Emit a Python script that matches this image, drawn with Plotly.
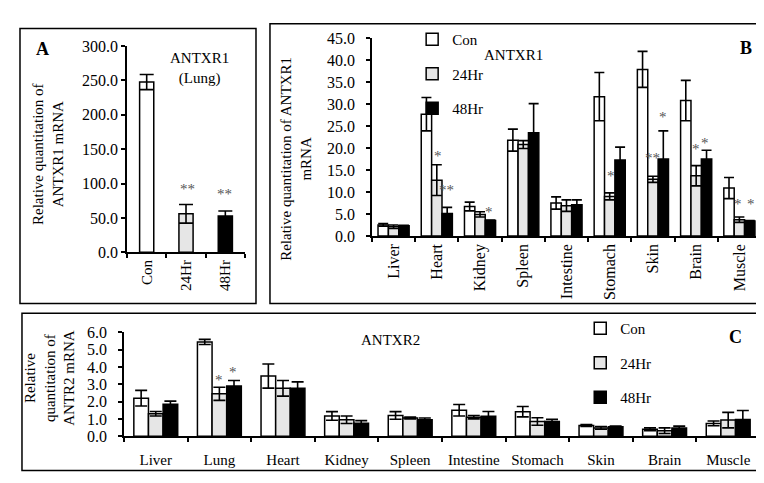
import plotly.graph_objects as go

# ---------------- Data ----------------
a_groups = ["Con", "24Hr", "48Hr"]
a_vals = [247.5, 56.0, 53.0]
a_err = [11.0, 13.5, 7.0]

b_tissues = ["Liver", "Heart", "Kidney", "Spleen", "Intestine", "Stomach", "Skin", "Brain", "Muscle"]
b_con = [2.5, 27.7, 6.7, 21.8, 7.5, 31.7, 37.9, 30.8, 10.9]
b_con_err = [0.3, 3.8, 1.0, 2.5, 1.4, 5.5, 4.1, 4.6, 2.4]
b_24 = [2.1, 12.7, 4.9, 20.8, 6.9, 9.0, 12.9, 13.7, 3.7]
b_24_err = [0.4, 3.5, 0.6, 0.9, 1.3, 0.8, 0.7, 2.3, 0.6]
b_48 = [2.3, 5.1, 3.5, 23.5, 7.1, 17.3, 17.5, 17.5, 3.4]
b_48_err = [0.1, 1.4, 0.1, 6.6, 1.1, 2.9, 6.4, 2.0, 0.1]

c_tissues = ["Liver", "Lung", "Heart", "Kidney", "Spleen", "Intestine", "Stomach", "Skin", "Brain", "Muscle"]
c_con = [2.2, 5.45, 3.48, 1.17, 1.2, 1.5, 1.42, 0.62, 0.4, 0.74]
c_con_err = [0.45, 0.15, 0.7, 0.25, 0.22, 0.33, 0.3, 0.05, 0.08, 0.14]
c_24 = [1.3, 2.45, 2.77, 0.95, 1.05, 1.1, 0.85, 0.48, 0.32, 0.93]
c_24_err = [0.13, 0.38, 0.45, 0.22, 0.05, 0.1, 0.22, 0.08, 0.16, 0.45]
c_48 = [1.85, 2.9, 2.78, 0.75, 0.95, 1.15, 0.85, 0.55, 0.48, 0.97]
c_48_err = [0.18, 0.32, 0.36, 0.15, 0.1, 0.28, 0.12, 0.04, 0.1, 0.52]

series_names = ["Con", "24Hr", "48Hr"]
series_colors = ["#ffffff", "#e6e6e6", "#000000"]

# significance markers: (text, category position, value)
a_stars = [("**", 1.05, 98), ("**", 1.99, 91)]
b_stars = [("*", 1.03, 19.1), ("**", 1.22, 11.3), ("*", 2.21, 6.4), ("*", 5.04, 14.6),
           ("**", 5.98, 18.6), ("*", 6.24, 27.9), ("*", 7.0, 20.7), ("*", 7.21, 22.0),
           ("*", 7.97, 8.2), ("*", 8.27, 8.2)]
c_stars = [("*", 0.99, 3.49), ("*", 1.21, 3.94)]

FONT = "Liberation Serif"

fig = go.Figure()

# Panel A
fig.add_trace(go.Bar(
    x=a_groups, y=a_vals, xaxis="x", yaxis="y", width=0.36,
    marker=dict(color=series_colors, line=dict(color="black", width=1.5)),
    error_y=dict(type="data", array=a_err, color="black", thickness=1.6, width=7),
    showlegend=False))

# Panel B
b_sets = [(b_con, b_con_err), (b_24, b_24_err), (b_48, b_48_err)]
for i, (vals, errs) in enumerate(b_sets):
    fig.add_trace(go.Bar(
        x=b_tissues, y=vals, xaxis="x2", yaxis="y2", name=series_names[i],
        width=0.24, offset=-0.36 + 0.24 * i,
        marker=dict(color=series_colors[i], line=dict(color="black", width=1.5)),
        error_y=dict(type="data", array=errs, color="black", thickness=1.6, width=5),
        legend="legend", legendgroup="b" + str(i)))

# Panel C
c_sets = [(c_con, c_con_err), (c_24, c_24_err), (c_48, c_48_err)]
for i, (vals, errs) in enumerate(c_sets):
    fig.add_trace(go.Bar(
        x=c_tissues, y=vals, xaxis="x3", yaxis="y3", name=series_names[i],
        width=0.23, offset=-0.345 + 0.23 * i,
        marker=dict(color=series_colors[i], line=dict(color="black", width=1.5)),
        error_y=dict(type="data", array=errs, color="black", thickness=1.6, width=6),
        legend="legend2", legendgroup="c" + str(i)))

def axis_common(size=16):
    return dict(showline=True, linecolor="black", linewidth=1.5, ticks="outside",
                ticklen=4, tickcolor="black", tickwidth=1.5, showgrid=False,
                zeroline=False, tickfont=dict(family=FONT, size=size, color="black"))

fig.update_layout(
    width=764, height=483, margin=dict(l=0, r=0, t=0, b=0),
    paper_bgcolor="white", plot_bgcolor="white", barmode="overlay",
    font=dict(family=FONT, size=15, color="black"),
    xaxis=dict(domain=[0.1558, 0.3102], anchor="y", type="category", tickangle=-90,
               tickson="boundaries", **axis_common(15)),
    yaxis=dict(domain=[0.4928, 0.9358], anchor="x", range=[0, 300], dtick=50,
               tickformat=".1f", **axis_common(16)),
    xaxis2=dict(domain=[0.4764, 0.9856], anchor="y2", type="category", tickangle=-90,
                tickson="boundaries", **axis_common(16)),
    yaxis2=dict(domain=[0.528, 0.9524], anchor="x2", range=[0, 45], dtick=5,
                tickformat=".1f", ticklabelstandoff=8, **axis_common(16)),
    xaxis3=dict(domain=[0.1518, 0.9843], anchor="y3", type="category", tickangle=0,
                tickson="boundaries", ticklabelstandoff=9, **axis_common(15)),
    yaxis3=dict(domain=[0.0983, 0.3209], anchor="x3", range=[0, 6], dtick=1,
                tickformat=".1f", ticklabelstandoff=8, **axis_common(16)),
    legend=dict(x=0.529, y=0.985, xanchor="left", yanchor="top", traceorder="grouped",
                tracegroupgap=12, bgcolor="rgba(0,0,0,0)",
                font=dict(family=FONT, size=15, color="black")),
    legend2=dict(x=0.749, y=0.365, xanchor="left", yanchor="top", traceorder="grouped",
                 tracegroupgap=12, bgcolor="rgba(0,0,0,0)",
                 font=dict(family=FONT, size=15, color="black")),
)

# Panel frames
frames = [(0.0157, 0.3246, 0.383, 0.973), (0.3429, 0.9882, 0.383, 0.9834),
          (0.0183, 0.9856, 0.0248, 0.3623)]
for x0, x1, y0, y1 in frames:
    fig.add_shape(type="rect", xref="paper", yref="paper", x0=x0, x1=x1, y0=y0, y1=y1,
                  line=dict(color="black", width=1.5), fillcolor="rgba(0,0,0,0)", layer="below")

ann = []
def txt(x, y, t, size=15, bold=False, angle=0):
    ann.append(dict(x=x, y=y, xref="paper", yref="paper", text=("<b>%s</b>" % t) if bold else t,
                    showarrow=False, textangle=angle, xanchor="center", yanchor="middle",
                    font=dict(family=FONT, size=size, color="black")))

txt(0.0458, 0.9296, "A", 18, True)
txt(0.966, 0.9317, "B", 18, True)
txt(0.9516, 0.3106, "C", 18, True)
txt(0.2513, 0.8882, "ANTXR1<br>(Lung)", 15)
txt(0.6623, 0.9172, "ANTXR1", 15)
txt(0.5013, 0.3043, "ANTXR2", 15)
txt(0.0524, 0.7039, "Relative quantitation of<br>ANTXR1 mRNA", 15, angle=-90)
txt(0.377, 0.6936, "Relative quantitation of ANTXR1<br>mRNA", 15, angle=-90)
txt(0.0550, 0.2236, "Relative<br>quantitation of<br>ANTR2 mRNA", 15, angle=-90)

for stars, xr, yr in [(a_stars, "x", "y"), (b_stars, "x2", "y2"), (c_stars, "x3", "y3")]:
    for t, xp, yp in stars:
        ann.append(dict(x=xp, y=yp, xref=xr, yref=yr, text=t, showarrow=False, yshift=-4,
                        xanchor="center", yanchor="middle",
                        font=dict(family=FONT, size=15, color="#555555")))

fig.update_layout(annotations=ann)
fig.write_html("out.html")
